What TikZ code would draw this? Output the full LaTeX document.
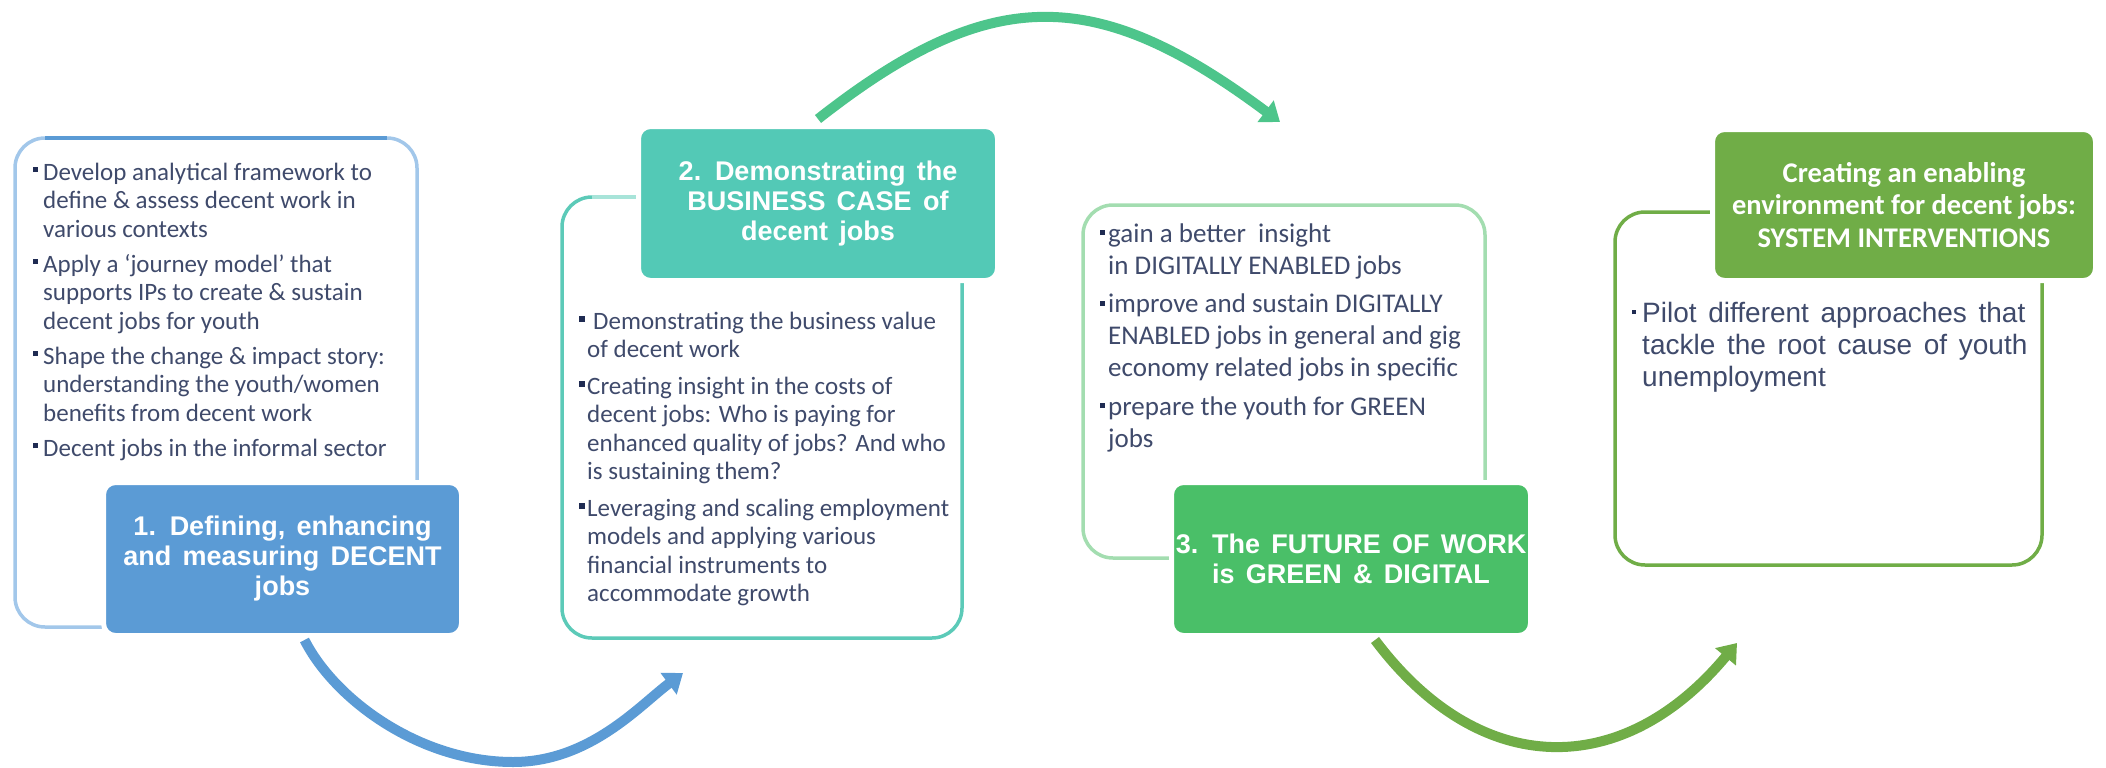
\documentclass[tikz,border=0pt]{standalone}
\usepackage{fontspec}
\setmainfont{Carlito}
\newfontfamily\arialfont{Liberation Sans}
\newfontfamily\arialwide[WordSpace=1.5]{Liberation Sans}
\usetikzlibrary{arrows.meta,calc}

\definecolor{blueH}{HTML}{5B9BD5}
\definecolor{blueO}{HTML}{A2C7EA}
\definecolor{tealH}{HTML}{53C9B6}
\definecolor{tealO}{HTML}{5CCAB8}
\definecolor{tealL}{HTML}{A8E4D9}
\definecolor{greenA}{HTML}{4DC58B}
\definecolor{greenH}{HTML}{4ABF68}
\definecolor{greenO}{HTML}{A3DDB0}
\definecolor{olive}{HTML}{70AD47}
\definecolor{textc}{HTML}{3F4A6B}
\definecolor{bulletc}{HTML}{1F2B52}

% bullet cells: width of the bullet column, raise, square size
\newcommand{\sqbul}[3]{\makebox[#1][l]{\color{bulletc}\rule[#2]{#3}{#3}}}

\begin{document}
\begin{tikzpicture}[x=1pt,y=-1pt,
  obox/.style={draw, rounded corners=30pt, line width=3.5pt, inner sep=0pt, outer sep=0pt},
  edge/.style={line width=3.5pt},
  hdr/.style={rounded corners=12pt, draw=white, line width=5pt, inner sep=0pt,
              text=white, align=center},
  items/.style={anchor=base west, inner sep=0pt, text=textc},
  flow/.style={line width=10pt, -{Triangle[length=18pt,width=26pt]}},
  hfont/.style={font=\arialfont\bfseries\fontsize{27}{30}\selectfont}
]
\useasboundingbox (0,0) rectangle (2106,768);

% content frames
\node[obox, draw=blueO,  minimum width=402pt, minimum height=489pt] (o1) at (216,382.5) {};
\node[obox, draw=tealO,  minimum width=400pt, minimum height=441pt] (o2) at (762,417.5) {};
\node[obox, draw=greenO, minimum width=402pt, minimum height=353pt] (o3) at (1284,381.5) {};
\node[obox, draw=olive,  minimum width=427pt, minimum height=353pt] (o4) at (1828.5,388.5) {};
% tinted top edges of the first two frames
\draw[edge, blueH] ($(o1.north west)+(30,0)$) -- ($(o1.north east)+(-30,0)$);
\draw[edge, tealL] ($(o2.north west)+(30,0)$) -- ($(o2.north east)+(-30,0)$);

% title boxes
\node[hdr, hfont, fill=blueH, minimum width=358pt, minimum height=153pt] (h1) at (282.5,559)
  {1. Defining, enhancing\\and measuring DECENT\\jobs};
\node[hdr, hfont, fill=tealH, minimum width=359pt, minimum height=154pt] (h2) at (818,203.5)
  {2. Demonstrating the\\BUSINESS CASE of\\decent jobs};
\node[hdr, hfont, fill=greenH, minimum width=359pt, minimum height=153pt] (h3) at (1351,559)
  {3. The FUTURE OF WORK\\is GREEN \& DIGITAL};
\node[hdr, fill=olive, minimum width=383pt, minimum height=151pt,
      font=\bfseries\fontsize{28.5}{32.5}\selectfont] (h4) at (1904,205)
  {Creating an enabling\\environment for decent jobs:\\SYSTEM INTERVENTIONS};

% bullet lists
\node[items, font=\fontsize{25}{28.7}\selectfont] (t1) at (33,180) {%
\begin{tabular}[t]{@{}l@{}l@{}}
\sqbul{10pt}{8pt}{5pt} & Develop analytical framework to\\
 & define \& assess decent work in\\
 & various contexts\\[6pt]
\sqbul{10pt}{8pt}{5pt} & Apply a ‘journey model’ that\\
 & supports IPs to create \& sustain\\
 & decent jobs for youth\\[6pt]
\sqbul{10pt}{8pt}{5pt} & Shape the change \& impact story:\\
 & understanding the youth/women\\
 & benefits from decent work\\[6pt]
\sqbul{10pt}{8pt}{5pt} & Decent jobs in the informal sector
\end{tabular}};

\node[items, font=\fontsize{25}{28.5}\selectfont] (t2) at (579,329) {%
\begin{tabular}[t]{@{}l@{}l@{}}
\sqbul{8pt}{7pt}{6pt} & \hspace{6pt}Demonstrating the business value\\
 & of decent work\\[8pt]
\sqbul{8pt}{7pt}{6pt} & Creating insight in the costs of\\
 & decent jobs: Who is paying for\\
 & enhanced quality of jobs? And who\\
 & is sustaining them?\\[8pt]
\sqbul{8pt}{7pt}{6pt} & Leveraging and scaling employment\\
 & models and applying various\\
 & financial instruments to\\
 & accommodate growth
\end{tabular}};

\node[items, font=\fontsize{27}{32}\selectfont] (t3) at (1100,242) {%
\begin{tabular}[t]{@{}l@{}l@{}}
\sqbul{8pt}{7pt}{5pt} & gain a better\ \ insight\\
 & in DIGITALLY ENABLED jobs\\[6.5pt]
\sqbul{8pt}{7pt}{5pt} & improve and sustain DIGITALLY\\
 & ENABLED jobs in general and gig\\
 & economy related jobs in specific\\[6.5pt]
\sqbul{8pt}{7pt}{5pt} & prepare the youth for GREEN\\
 & jobs
\end{tabular}};

\node[items, font=\arialwide\fontsize{28}{32}\selectfont] (t4) at (1632,322) {%
\begin{tabular}[t]{@{}l@{}l@{}}
\sqbul{10pt}{8pt}{4pt} & Pilot different approaches that\\
 & tackle the root cause of youth\\
 & unemployment
\end{tabular}};

% flow arrows between the stages
\coordinate (s1) at ($(h1.south)+(22,2)$);
\coordinate (e1) at ($(o2.south west)+(121,35)$);
\coordinate (s2) at ($(h2.north)+(0,-5)$);
\coordinate (e2) at ($(o3.north west)+(197,-83)$);
\coordinate (s3) at ($(h3.south)+(24,2)$);
\coordinate (e3) at ($(o4.south west)+(122,78)$);

\draw[flow, blueH] (s1) .. controls (335,700) and (420,762) .. (513,762)
  .. controls (590,762) and (640,705) .. (e1);
\draw[flow, greenA] (s2) .. controls (990,-16) and (1095,-16) .. (e2);
\draw[flow, olive] (s3) .. controls (1480,780) and (1623,780) .. (e3);
\end{tikzpicture}
\end{document}
